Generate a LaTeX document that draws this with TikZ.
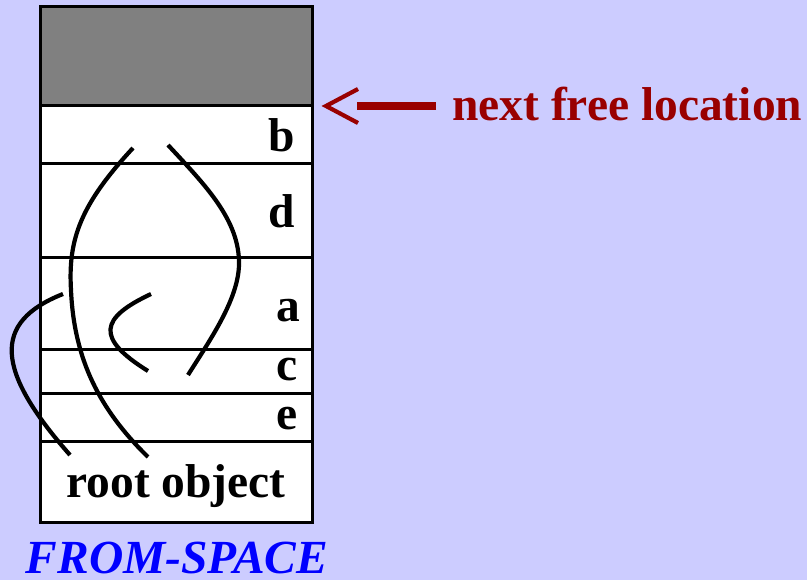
\documentclass[tikz,border=0pt]{standalone}
\usepackage{fontspec}
\setmainfont{Liberation Serif}
\usepackage{tikz}
\usetikzlibrary{positioning}
\definecolor{lav}{RGB}{204,204,255}
\definecolor{usd}{RGB}{128,128,128}
\definecolor{nxt}{RGB}{153,0,0}
\definecolor{spc}{RGB}{0,0,255}

\begin{document}
\begin{tikzpicture}[x=1pt,y=-1pt,font=\fontsize{47.5}{57}\selectfont\bfseries,node distance=0pt,
  cell/.style={draw,line width=3pt,fill=white,minimum width=272pt,outer sep=0pt,inner sep=0pt},
  usedcell/.style={cell,fill=usd},
  tag/.style={anchor=base east,inner sep=0pt},
  link/.style={line width=4.2pt},
  shaft/.style={draw=nxt,line width=8pt},
  barb/.style={draw=nxt,line width=4.2pt,miter limit=10}]
  \useasboundingbox[fill=lav] (0,0) rectangle (807,580);

  % ---------- from-space column ----------
  \node[usedcell,minimum height=99pt,anchor=north west] (used) at (40,7) {};
  \node[cell,minimum height=58pt,below=of used] (b) {};
  \node[cell,minimum height=94pt,below=of b] (d) {};
  \node[cell,minimum height=92pt,below=of d] (a) {};
  \node[cell,minimum height=44pt,below=of a] (c) {};
  \node[cell,minimum height=48pt,below=of c] (e) {};
  \node[cell,minimum height=80pt,below=of e] (root) {};
  \node[tag] (bl) at ([shift={(-17pt,12pt)}]b.south east) {b};
  \node[tag] (dl) at ([shift={(-17pt,30pt)}]d.south east) {d};
  \node[tag] (al) at ([shift={(-12pt,28pt)}]a.south east) {a};
  \node[tag] (cl) at ([shift={(-14pt,13pt)}]c.south east) {c};
  \node[tag] (el) at ([shift={(-14pt,13pt)}]e.south east) {e};
  \node[tag,anchor=base] (rootl) at ([yshift=25pt]root.south) {root object};
  \node[anchor=base,text=spc] (fromspace) at (177,573) {\itshape FROM-SPACE};

  % ---------- next free location ----------
  \coordinate (top) at ([xshift=14pt]used.south east);
  \coordinate (back) at ([xshift=45pt]used.south east);
  \node[anchor=base west,inner xsep=16pt,text=nxt] (free) at (436,121) {next free location};
  \draw[shaft] (free.west |- top) -- (back);
  \draw[barb] ([shift={(32pt,17pt)}]top) -- (top) -- ([shift={(32pt,-17pt)}]top);

  % ---------- pointers between objects ----------
  \coordinate (b1) at (133,148); \coordinate (b2) at (168,145);
  \coordinate (a1) at (63,294);  \coordinate (a2) at (151,294);
  \coordinate (c1) at (148,371); \coordinate (c2) at (188,375);
  \coordinate (r1) at (70,455);  \coordinate (r2) at (148,457);
  \draw[link] (a1) .. controls (-8,322) and (-5,370) .. (r1);
  \draw[link] (b1) .. controls (80,205) and (68,240) .. (71,290) .. controls (74,360) and (100,410) .. (r2);
  \draw[link] (b2) .. controls (205,185) and (240,220) .. (239,265) .. controls (238,300) and (210,340) .. (c2);
  \draw[link] (a2) .. controls (100,318) and (95,338) .. (c1);
\end{tikzpicture}
\end{document}
